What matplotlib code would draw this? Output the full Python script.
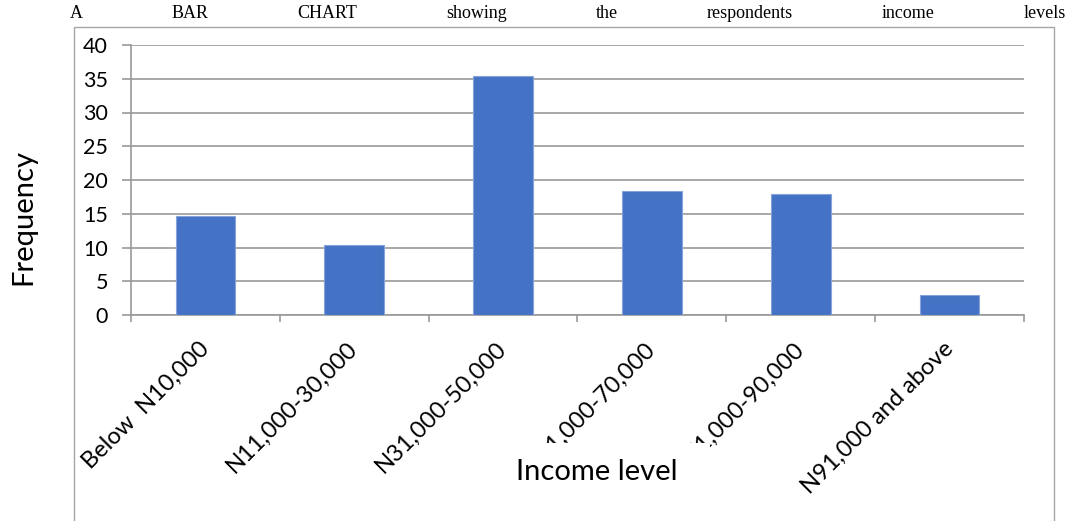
import matplotlib.pyplot as plt
from matplotlib.patches import Rectangle

# income categories and frequencies
categories = ['Below  N10,000', 'N11,000-30,000', 'N31,000-50,000',
              'N51,000-70,000', 'N71,000-90,000', 'N91,000 and above']
frequency = [14.6, 10.3, 35.4, 18.4, 18.0, 2.9]
y_ticks = [0, 5, 10, 15, 20, 25, 30, 35, 40]
title_words = ['A', 'BAR', 'CHART', 'showing', 'the', 'respondents', 'income', 'levels']

W, H = 1070, 521
fig = plt.figure(figsize=(W / 100, H / 100), dpi=100)
fig.patch.set_facecolor('white')

sans = ['Lato', 'DejaVu Sans']
grey = '#999999'

ax = fig.add_axes([131 / W, 206 / H, (1024 - 131) / W, 270 / H])
x = list(range(len(categories)))
ax.bar(x, frequency, width=0.4, color='#4472C4', edgecolor='#86A3DA', linewidth=0.8, zorder=3)

ax.set_xlim(-0.5, len(categories) - 0.5)
ax.set_ylim(0, 40)
ax.set_yticks(y_ticks)
ax.set_yticklabels([str(v) for v in y_ticks], fontsize=15.5, family=sans)
ax.yaxis.grid(True, color=grey, linewidth=1.2, zorder=0)
ax.tick_params(axis='y', length=6.5, color=grey, width=1.2, pad=10)

# category labels sit at the centres, tick marks at the boundaries
ax.set_xticks(x)
ax.set_xticklabels(categories, rotation=45, ha='right', va='center',
                   rotation_mode='anchor', fontsize=17, family=sans)
ax.tick_params(axis='x', which='major', length=0, pad=22)
ax.set_xticks([i - 0.5 for i in range(len(categories) + 1)], minor=True)
ax.tick_params(axis='x', which='minor', length=5, color=grey, width=1.2)

for s in ['top', 'right']:
    ax.spines[s].set_visible(False)
for s in ['left', 'bottom']:
    ax.spines[s].set_color(grey)
    ax.spines[s].set_linewidth(1.2)

fig.text(23 / W, (H - 217) / H, 'Frequency', fontsize=21, family=sans,
         rotation=90, ha='center', va='center')

# chart frame
fig.patches.append(Rectangle((74 / W, -0.05), (1054 - 74) / W, 1.05 - 27 / H,
                             transform=fig.transFigure, fill=False,
                             edgecolor='#A6A6A6', linewidth=1.0, zorder=1))

# axis title box hides part of the tick labels, as in the original
fig.patches.append(Rectangle((505 / W, (H - 502) / H), 205 / W, 59 / H,
                             transform=fig.transFigure, facecolor='white',
                             edgecolor='none', zorder=2))
fig.text(597 / W, (H - 472) / H, 'Income level', fontsize=21, family=sans,
         ha='center', va='center', zorder=4)

# justified title line
fig.canvas.draw()
renderer = fig.canvas.get_renderer()
title_texts = [fig.text(0, 1 - 14 / H, w, fontsize=13, family='Liberation Serif',
                        va='center', ha='left') for w in title_words]
widths = [t.get_window_extent(renderer).width for t in title_texts]
left, right = 70, 1066
gap = (right - left - sum(widths)) / (len(title_words) - 1)
pos = left
for t, w in zip(title_texts, widths):
    t.set_x(pos / W)
    pos += w + gap

fig.savefig('out.png', dpi=100)
